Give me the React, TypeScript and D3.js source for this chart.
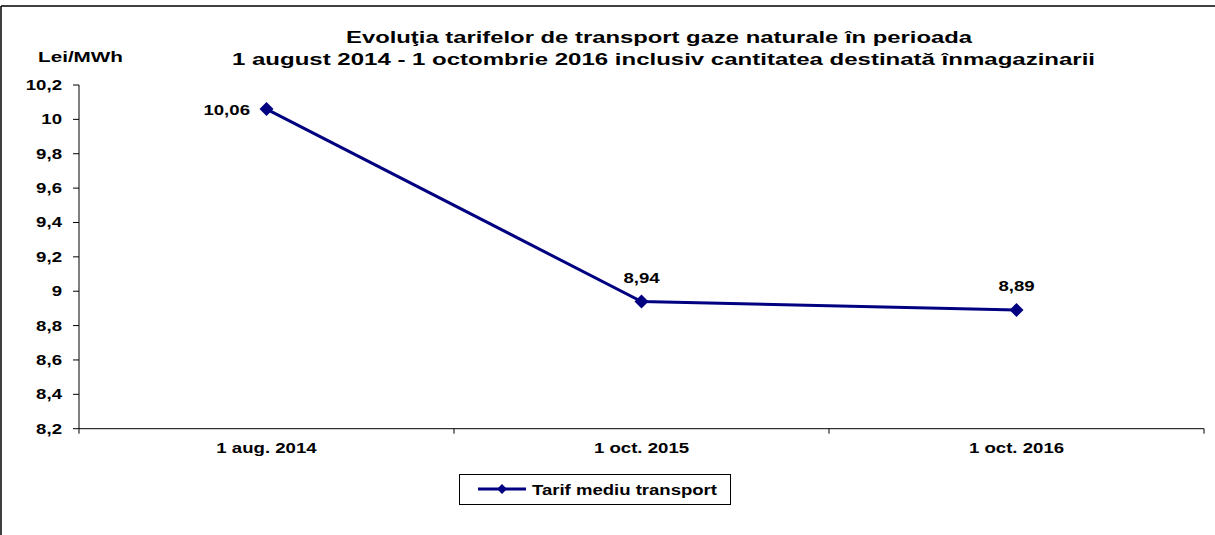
import React from "react";
import * as d3 from "d3";

const titleLines = [
  "Evoluţia tarifelor de transport gaze naturale în perioada",
  "1 august 2014 - 1 octombrie 2016 inclusiv cantitatea destinată înmagazinarii",
];
const yLabel = "Lei/MWh";
const categories = ["1 aug. 2014", "1 oct. 2015", "1 oct. 2016"];
const values = [10.06, 8.94, 8.89];
const valueLabels = ["10,06", "8,94", "8,89"];
const yTicks = [8.2, 8.4, 8.6, 8.8, 9, 9.2, 9.4, 9.6, 9.8, 10, 10.2];
const seriesName = "Tarif mediu transport";

const W = 1215;
const H = 535;
const FONT = "'Liberation Sans', Arial, sans-serif";
const NAVY = "#000080";
const SX = 1.33;

function WideText(props: {
  x: number;
  y: number;
  anchor?: "start" | "middle" | "end";
  size?: number;
  children: React.ReactNode;
}) {
  const { x, y, anchor = "start", size = 14, children } = props;
  return (
    <text
      transform={`translate(${x},${y}) scale(${SX},1)`}
      fontSize={size}
      fontWeight="bold"
      textAnchor={anchor}
    >
      {children}
    </text>
  );
}

export default function App() {
  const left = 79;
  const right = 1204;
  const top = 85;
  const bottom = 428.7;

  const x = d3.scaleBand<string>().domain(categories).range([left, right]).padding(0);
  const y = d3.scaleLinear().domain([8.2, 10.2]).range([bottom, top]);

  const pts = categories.map((c, i) => [x(c)! + x.bandwidth() / 2, y(values[i])] as [number, number]);
  const line = d3.line()(pts) || "";
  const fmt = (v: number) => String(Math.round(v * 10) / 10).replace(".", ",");

  const diamond = (cx: number, cy: number, r: number) =>
    `M${cx},${cy - r}L${cx + r},${cy}L${cx},${cy + r}L${cx - r},${cy}Z`;

  const xTickPos = [...categories.map((c) => x(c)!), right];

  return (
    <svg
      width={W}
      height={H}
      style={{ position: "absolute", left: 0, top: 0, background: "#fff" }}
      fontFamily={FONT}
    >
      <rect x={0} y={0} width={W} height={H} fill="#fff" />
      {/* outer frame (top and left visible) */}
      <line x1={1} y1={6} x2={W} y2={6} stroke="#000" strokeWidth={1.5} />
      <line x1={1} y1={6} x2={1} y2={H} stroke="#000" strokeWidth={1.5} />

      {/* title */}
      <text x={346} y={43} fontSize={17} fontWeight="bold" textLength={626} lengthAdjust="spacingAndGlyphs">
        {titleLines[0]}
      </text>
      <text x={232} y={65} fontSize={17} fontWeight="bold" textLength={863} lengthAdjust="spacingAndGlyphs">
        {titleLines[1]}
      </text>

      {/* y label */}
      <text x={38} y={62} fontSize={15} fontWeight="bold" textLength={85} lengthAdjust="spacingAndGlyphs">
        {yLabel}
      </text>

      {/* y axis */}
      <line x1={left} y1={top} x2={left} y2={bottom} stroke="#000" strokeWidth={1} />
      {yTicks.map((t) => (
        <g key={t}>
          <line x1={left - 6} x2={left} y1={y(t)} y2={y(t)} stroke="#000" strokeWidth={1} />
          <WideText x={62} y={y(t) + 5} anchor="end">
            {fmt(t)}
          </WideText>
        </g>
      ))}

      {/* x axis */}
      <line x1={left} y1={bottom} x2={right} y2={bottom} stroke="#000" strokeWidth={1} />
      {xTickPos.map((p, i) => (
        <line key={i} x1={p} x2={p} y1={bottom} y2={bottom + 5} stroke="#000" strokeWidth={1} />
      ))}
      {categories.map((c) => (
        <WideText key={c} x={x(c)! + x.bandwidth() / 2} y={453} anchor="middle">
          {c}
        </WideText>
      ))}

      {/* series */}
      <path d={line} fill="none" stroke={NAVY} strokeWidth={3} />
      {pts.map(([px, py], i) => (
        <path key={i} d={diamond(px, py, 7)} fill={NAVY} />
      ))}

      {/* data labels */}
      <WideText x={250} y={y(values[0]) + 6} anchor="end">
        {valueLabels[0]}
      </WideText>
      {[1, 2].map((i) => (
        <WideText key={i} x={pts[i][0]} y={pts[i][1] - 19} anchor="middle">
          {valueLabels[i]}
        </WideText>
      ))}

      {/* legend */}
      <rect x={459.5} y={474.5} width={271} height={30} fill="#fff" stroke="#000" strokeWidth={1} />
      <line x1={478} x2={526} y1={489} y2={489} stroke={NAVY} strokeWidth={3} />
      <path d={diamond(502, 489, 5)} fill={NAVY} />
      <text x={532} y={495} fontSize={14} fontWeight="bold" textLength={185} lengthAdjust="spacingAndGlyphs">
        {seriesName}
      </text>
    </svg>
  );
}
